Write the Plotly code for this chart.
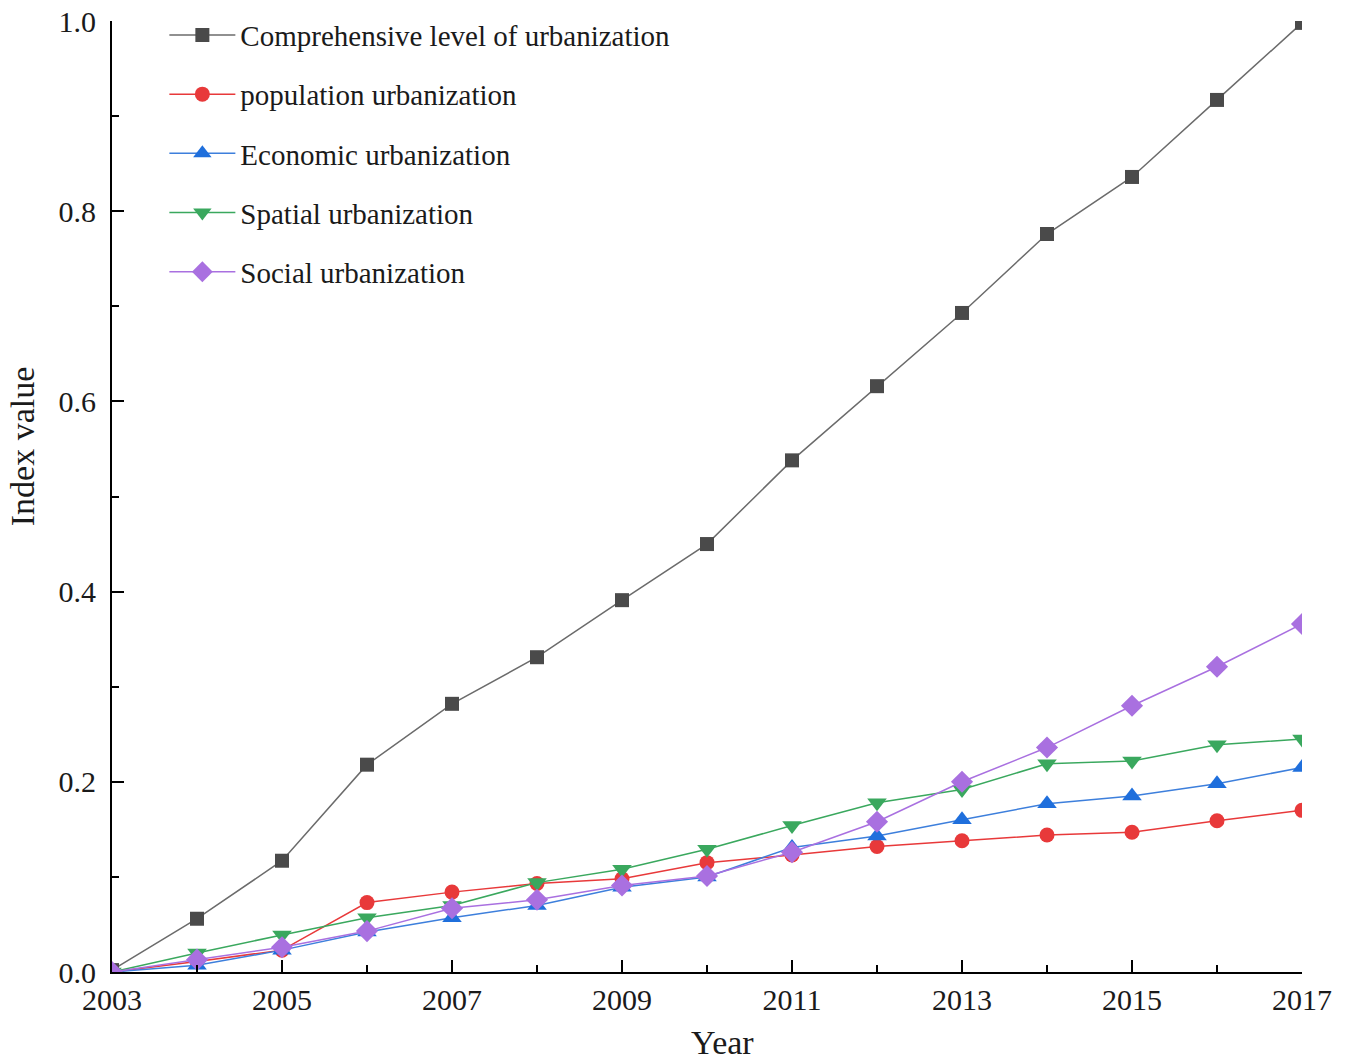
import plotly.graph_objects as go

years = list(range(2003, 2018))

comprehensive = [0.002, 0.056, 0.117, 0.218, 0.282, 0.331, 0.391, 0.450,
                 0.538, 0.616, 0.693, 0.776, 0.836, 0.917, 0.998]
population = [0.000, 0.011, 0.023, 0.073, 0.084, 0.093, 0.098, 0.115,
              0.123, 0.132, 0.138, 0.144, 0.147, 0.159, 0.170]
economic = [0.000, 0.007, 0.023, 0.042, 0.057, 0.070, 0.089, 0.100,
            0.131, 0.143, 0.160, 0.177, 0.185, 0.198, 0.215]
spatial = [0.000, 0.020, 0.039, 0.057, 0.070, 0.094, 0.108, 0.129,
           0.154, 0.178, 0.192, 0.219, 0.222, 0.239, 0.245]
social = [0.000, 0.013, 0.026, 0.043, 0.067, 0.076, 0.091, 0.101,
          0.126, 0.158, 0.200, 0.236, 0.280, 0.321, 0.366]

series = [
    ("Comprehensive level of urbanization", comprehensive, "#4a4a4a", "#6b6b6b", "square", 14),
    ("population urbanization", population, "#e8393a", "#e8393a", "circle", 15),
    ("Economic urbanization", economic, "#1f6fdc", "#3d7fdc", "triangle-up", 17),
    ("Spatial urbanization", spatial, "#3aa85e", "#3aa85e", "triangle-down", 17),
    ("Social urbanization", social, "#a970e0", "#a970e0", "diamond", 17),
]

fig = go.Figure()
for i, (name, vals, mcol, lcol, sym, size) in enumerate(series):
    fig.add_trace(go.Scatter(
        x=years, y=vals, name=name, mode="lines+markers",
        line=dict(color=lcol, width=1.5),
        marker=dict(symbol=sym, size=size, color=mcol),
        legendgroup=f"g{i}",
        cliponaxis=True,
    ))

font_family = "Liberation Serif, Times New Roman, serif"

fig.update_layout(
    width=1349, height=1062,
    margin=dict(l=112, r=47, t=21, b=90, autoexpand=False),
    plot_bgcolor="white", paper_bgcolor="white",
    font=dict(family=font_family, size=30, color="#1a1a1a"),
    showlegend=True,
    legend=dict(
        x=0.044, y=1.012, xanchor="left", yanchor="top",
        font=dict(size=29, family=font_family, color="#1a1a1a"),
        tracegroupgap=18.5, itemwidth=66, bgcolor="rgba(0,0,0,0)",
    ),
    xaxis=dict(
        range=[2003, 2017], tick0=2003, dtick=2, automargin=False,
        showline=True, linecolor="black", linewidth=2,
        ticks="inside", ticklen=12, tickwidth=2, tickcolor="black",
        minor=dict(dtick=1, ticks="inside", ticklen=7, tickwidth=2, tickcolor="black"),
        showgrid=False, zeroline=False,
        tickfont=dict(size=30),
    ),
    yaxis=dict(
        range=[0, 1.0], tick0=0, dtick=0.2, tickformat=".1f", automargin=False,
        showline=True, linecolor="black", linewidth=2,
        ticks="inside", ticklen=12, tickwidth=2, tickcolor="black",
        minor=dict(dtick=0.1, ticks="inside", ticklen=7, tickwidth=2, tickcolor="black"),
        showgrid=False, zeroline=False,
        tickfont=dict(size=30), ticklabelstandoff=8,
    ),
    annotations=[
        dict(text="Year", xref="paper", yref="paper", x=0.513, y=-0.074,
             xanchor="center", yanchor="middle", showarrow=False,
             font=dict(size=34, family=font_family, color="#1a1a1a")),
        dict(text="Index value", xref="paper", yref="paper", x=-0.0755, y=0.553,
             xanchor="center", yanchor="middle", textangle=-90, showarrow=False,
             font=dict(size=34, family=font_family, color="#1a1a1a")),
    ],
)

fig.write_html("out.html")
